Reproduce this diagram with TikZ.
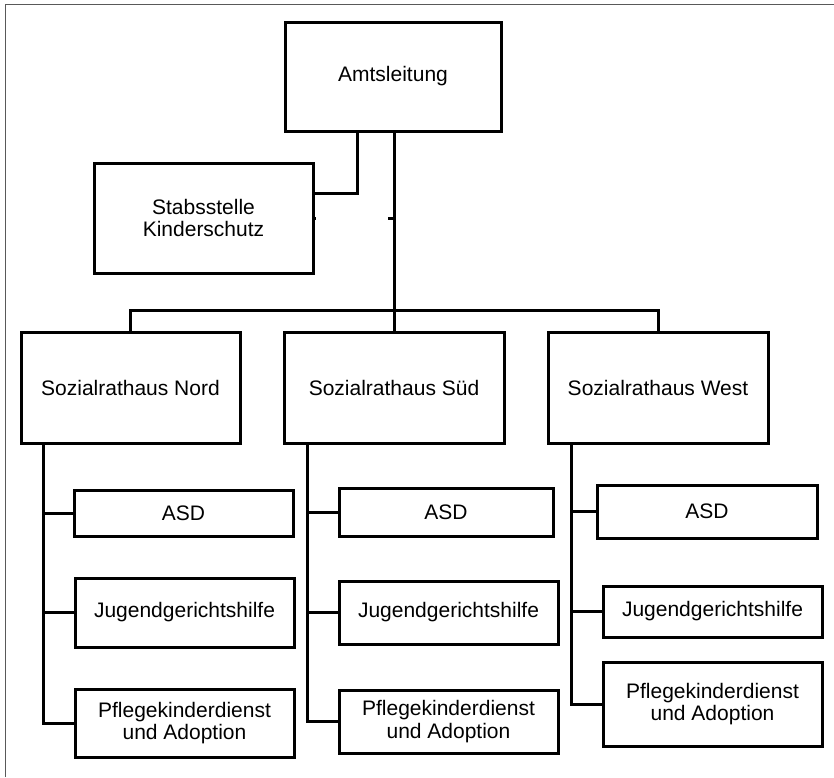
\documentclass[tikz,border=0pt]{standalone}
\usepackage{fontspec}
\setmainfont{Liberation Sans}
\usepackage{tikz}
\usetikzlibrary{positioning}

\tikzset{
	unit/.style={draw, line width=3pt, inner sep=0pt, outer sep=0pt, align=center, font=\fontsize{21}{22.5}\selectfont},
	link/.style={line width=3pt},
	frame/.style={line width=1.6pt, black!65}
}

\begin{document}
\begin{tikzpicture}[x=1pt, y=-1pt]
	\useasboundingbox (0,0) rectangle (834,777);
	\draw[frame] (5.5,777) -- (5.5,4.5) -- (834,4.5);

	\node[unit, minimum width=216pt, minimum height=109pt] (amt) at (393,76.5) {Amtsleitung};
	\node[unit, minimum width=219pt, minimum height=110pt] (stab) at (203.5,218) {Stabsstelle\\Kinderschutz};

	\node[unit, minimum width=219pt, minimum height=111pt] (nord) at (130.5,387.5) {Sozialrathaus Nord};
	\node[unit, minimum width=220pt, minimum height=111pt] (sued) at (394,387.5) {Sozialrathaus Süd};
	\node[unit, minimum width=220pt, minimum height=111pt] (west) at (658,387.5) {Sozialrathaus West};

	\node[unit, minimum width=219pt, minimum height=46pt] (asdnord) at (183.5,513) {ASD};
	\node[unit, minimum width=219pt, minimum height=69pt] (jghnord) at (184.5,612.5) {Jugendgerichtshilfe};
	\node[unit, minimum width=219pt, minimum height=68pt] (pflnord) at (184.5,723) {Pflegekinderdienst\\und Adoption};

	\node[unit, minimum width=214pt, minimum height=48pt] (asdsued) at (446,512) {ASD};
	\node[unit, minimum width=219pt, minimum height=63pt] (jghsued) at (448.5,612.5) {Jugendgerichtshilfe};
	\node[unit, minimum width=219pt, minimum height=63pt] (pflsued) at (448.5,721.5) {Pflegekinderdienst\\und Adoption};

	\node[unit, minimum width=220pt, minimum height=53pt] (asdwest) at (707,511.5) {ASD};
	\node[unit, minimum width=219pt, minimum height=51pt] (jghwest) at (712.5,611.5) {Jugendgerichtshilfe};
	\node[unit, minimum width=219pt, minimum height=84pt] (pflwest) at (712.5,704) {Pflegekinderdienst\\und Adoption};

	\coordinate (bar) at (394,310);
	\coordinate (nordspine) at (43,443);
	\coordinate (suedspine) at (307,443);
	\coordinate (westspine) at (571,443);

	\draw[link] ([xshift=-36pt]amt.south) |- ([yshift=25pt]stab.east);
	\draw[link] (stab.east) -- ++(3,0);
	\draw[link] (sued.north |- amt.south) -- (sued.north);
	\draw[link] (sued.north |- stab.east) -- ++(-6,0);
	\draw[link] (nord.north) |- (bar) -| (west.north);

	\draw[link] (nordspine) |- (pflnord.west);
	\draw[link] (nordspine |- asdnord.west) -- (asdnord.west);
	\draw[link] (nordspine |- jghnord.west) -- (jghnord.west);

	\draw[link] (suedspine) |- (pflsued.west);
	\draw[link] (suedspine |- asdsued.west) -- (asdsued.west);
	\draw[link] (suedspine |- jghsued.west) -- (jghsued.west);

	\draw[link] (westspine) |- (pflwest.west);
	\draw[link] (westspine |- asdwest.west) -- (asdwest.west);
	\draw[link] (westspine |- jghwest.west) -- (jghwest.west);
\end{tikzpicture}
\end{document}
